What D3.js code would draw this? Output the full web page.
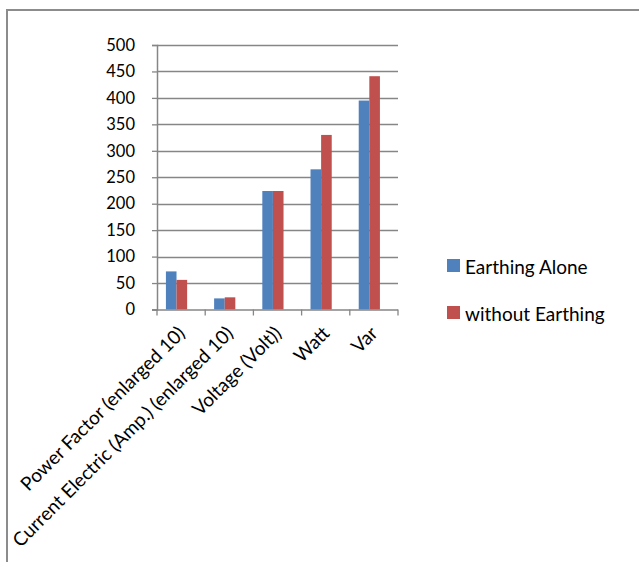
<!DOCTYPE html>
<html>
<head>
<meta charset="utf-8">
<script src="https://cdn.jsdelivr.net/npm/d3@7/dist/d3.min.js"></script>
<style>
  html, body { margin: 0; padding: 0; background: #fff; }
  svg { display: block; }
  text { font-family: Lato, "Open Sans", sans-serif; fill: #000; }
</style>
</head>
<body>
<svg id="chart" width="639" height="562"></svg>
<script>
// Measured quantities per category
const categories = [
  "Power Factor (enlarged 10)",
  "Current Electric (Amp.) (enlarged 10)",
  "Voltage (Volt))",
  "Watt",
  "Var"
];
const seriesNames = ["Earthing Alone", "without Earthing"];
const earthingAlone = [72, 21, 224, 265, 395];
const withoutEarthing = [56, 23, 224, 330, 441];
const yTicks = [0, 50, 100, 150, 200, 250, 300, 350, 400, 450, 500];
const colors = ["#4F81BD", "#C0504D"];

const svg = d3.select("#chart");

// Outer frame (top and left edges visible)
svg.append("rect")
  .attr("x", 7).attr("y", 10)
  .attr("width", 700).attr("height", 600)
  .attr("fill", "none")
  .attr("stroke", "#8c8c8c")
  .attr("stroke-width", 2);

const plot = { left: 157, right: 398, top: 45, bottom: 309.5 };

const x = d3.scaleBand()
  .domain(categories)
  .range([plot.left, plot.right])
  .paddingInner(0)
  .paddingOuter(0);

const y = d3.scaleLinear()
  .domain([0, 500])
  .range([plot.bottom, plot.top]);

// Bar pair sits slightly left of the category centre
const bw = x.bandwidth();
const sub = d3.scaleBand()
  .domain(seriesNames)
  .range([bw * 0.185, bw * 0.185 + bw * 0.44])
  .paddingInner(0)
  .paddingOuter(0);

// Gridlines
svg.append("g")
  .selectAll("line")
  .data(yTicks.filter(d => d > 0))
  .join("line")
  .attr("x1", plot.left).attr("x2", plot.right)
  .attr("y1", d => Math.round(y(d)) + 0.5)
  .attr("y2", d => Math.round(y(d)) + 0.5)
  .attr("stroke", "#868686")
  .attr("stroke-width", 1.3);

// Bars
const data = categories.map((c, i) => ({
  cat: c,
  vals: [earthingAlone[i], withoutEarthing[i]]
}));

const groups = svg.append("g")
  .selectAll("g")
  .data(data)
  .join("g")
  .attr("transform", d => `translate(${x(d.cat)},0)`);

groups.selectAll("rect")
  .data(d => d.vals.map((v, j) => ({ name: seriesNames[j], v, j })))
  .join("rect")
  .attr("x", d => sub(d.name))
  .attr("width", sub.bandwidth())
  .attr("y", d => y(d.v))
  .attr("height", d => y(0) - y(d.v))
  .attr("fill", d => colors[d.j]);

// Y axis
const yAxis = svg.append("g")
  .attr("transform", `translate(${plot.left},0)`)
  .call(d3.axisLeft(y).tickValues(yTicks).tickSize(5).tickPadding(17));
yAxis.select(".domain").attr("stroke", "#868686").attr("stroke-width", 1.5);
yAxis.selectAll(".tick line").attr("stroke", "#868686").attr("stroke-width", 1.3);
yAxis.selectAll(".tick text")
  .style("font-family", "Lato, 'Open Sans', sans-serif")
  .style("font-size", "16.5px")
  .attr("fill", "#000");

// X axis with ticks at category boundaries
const xAxisG = svg.append("g")
  .attr("transform", `translate(0,${plot.bottom})`);
xAxisG.append("line")
  .attr("x1", plot.left - 5).attr("x2", plot.right)
  .attr("y1", 0.5).attr("y2", 0.5)
  .attr("stroke", "#868686").attr("stroke-width", 1.5);
const boundaries = categories.map(c => x(c)).concat([plot.right]);
xAxisG.selectAll("line.tk")
  .data(boundaries)
  .join("line")
  .attr("class", "tk")
  .attr("x1", d => d).attr("x2", d => d)
  .attr("y1", 0).attr("y2", 6)
  .attr("stroke", "#868686").attr("stroke-width", 1.3);

// Rotated category labels
svg.append("g")
  .selectAll("text")
  .data(categories)
  .join("text")
  .attr("transform", d => `translate(${x(d) + x.bandwidth() / 2 + 5},${plot.bottom + 25}) rotate(-45)`)
  .attr("text-anchor", "end")
  .style("font-size", "19px")
  .text(d => d);

// Legend
const legend = svg.append("g")
  .selectAll("g")
  .data(seriesNames)
  .join("g")
  .attr("transform", (d, i) => `translate(447,${259 + i * 47})`);
legend.append("rect")
  .attr("width", 13).attr("height", 13)
  .attr("fill", (d, i) => colors[i]);
legend.append("text")
  .attr("x", 18).attr("y", 15)
  .style("font-size", "19px")
  .text(d => d);
</script>
</body>
</html>
